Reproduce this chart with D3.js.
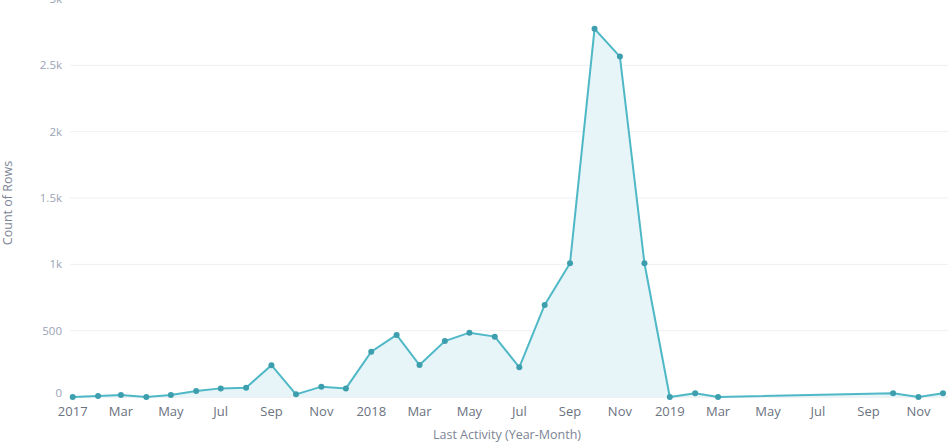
<!DOCTYPE html>
<html>
<head>
<meta charset="utf-8">
<script src="https://cdn.jsdelivr.net/npm/d3@7"></script>
<style>
  html, body { margin: 0; padding: 0; background: #ffffff; }
  svg { display: block; font-family: "Open Sans", Lato, sans-serif; }
</style>
</head>
<body>
<svg id="chart" width="948" height="444"></svg>
<script>
// ---- data ----
const months = [
  "2017-01","2017-02","2017-03","2017-04","2017-05","2017-06","2017-07","2017-08","2017-09","2017-10","2017-11","2017-12",
  "2018-01","2018-02","2018-03","2018-04","2018-05","2018-06","2018-07","2018-08","2018-09","2018-10","2018-11","2018-12",
  "2019-01","2019-02","2019-03",
  "2019-10","2019-11","2019-12"
];
const counts = [
  0, 8, 15, 0, 15, 45, 65, 70, 240, 20, 78, 65,
  342, 468, 241, 422, 485, 455, 224, 694, 1008, 2775, 2566, 1008,
  0, 28, 0,
  28, 0, 28
];
const yTicks = [0, 500, 1000, 1500, 2000, 2500, 3000];
const yTickLabels = ["0", "500", "1k", "1.5k", "2k", "2.5k", "3k"];
const yTitle = "Count of Rows";
const xTitle = "Last Activity (Year-Month)";

// ---- build ----
const parse = d3.timeParse("%Y-%m");
const data = months.map((m, i) => ({ date: parse(m), value: counts[i] }));

const svg = d3.select("#chart");
const W = 948, H = 444;

const x = d3.scaleTime()
  .domain([parse("2017-01"), parse("2019-12")])
  .range([72.7, 943]);
const y = d3.scaleLinear()
  .domain([0, 3000])
  .range([397, -1]);

// gridlines
svg.append("g")
  .selectAll("line")
  .data(yTicks)
  .join("line")
  .attr("x1", 70).attr("x2", W)
  .attr("y1", d => y(d)).attr("y2", d => y(d))
  .attr("stroke", d => d === 0 ? "#dfe3e8" : "#eef0f3")
  .attr("stroke-width", 1);

// y tick labels
svg.append("g")
  .selectAll("text")
  .data(yTicks)
  .join("text")
  .attr("x", 62)
  .attr("y", d => d === 0 ? y(d) - 4 : y(d))
  .attr("dy", "0.35em")
  .attr("text-anchor", "end")
  .attr("font-size", 11.5)
  .attr("fill", "#9aa3b5")
  .text((d, i) => yTickLabels[i]);

// y title
svg.append("text")
  .attr("transform", `translate(12,${203}) rotate(-90)`)
  .attr("text-anchor", "middle")
  .attr("font-size", 12.5)
  .attr("fill", "#7d8596")
  .text(yTitle);

// area
const area = d3.area()
  .x(d => x(d.date))
  .y0(y(0))
  .y1(d => y(d.value));
svg.append("path")
  .datum(data)
  .attr("d", area)
  .attr("fill", "#e7f4f8");

// line
const line = d3.line()
  .x(d => x(d.date))
  .y(d => y(d.value));
svg.append("path")
  .datum(data)
  .attr("d", line)
  .attr("fill", "none")
  .attr("stroke", "#4fb8c6")
  .attr("stroke-width", 2);

// points
svg.append("g")
  .selectAll("circle")
  .data(data)
  .join("circle")
  .attr("cx", d => x(d.date))
  .attr("cy", d => y(d.value))
  .attr("r", 3)
  .attr("fill", "#3d9fae");

// x axis tick labels
const fmt = d => d.getMonth() === 0 ? d3.timeFormat("%Y")(d) : d3.timeFormat("%b")(d);
const xTicks = d3.timeMonth.every(2).range(parse("2017-01"), parse("2019-12"));
svg.append("g")
  .selectAll("text")
  .data(xTicks)
  .join("text")
  .attr("x", d => x(d))
  .attr("y", 411)
  .attr("dy", "0.35em")
  .attr("text-anchor", "middle")
  .attr("font-size", 13)
  .attr("fill", "#6b7280")
  .text(fmt);

// x title
svg.append("text")
  .attr("x", 507)
  .attr("y", 435)
  .attr("dy", "0.35em")
  .attr("text-anchor", "middle")
  .attr("font-size", 12.5)
  .attr("fill", "#7d8596")
  .text(xTitle);
</script>
</body>
</html>
